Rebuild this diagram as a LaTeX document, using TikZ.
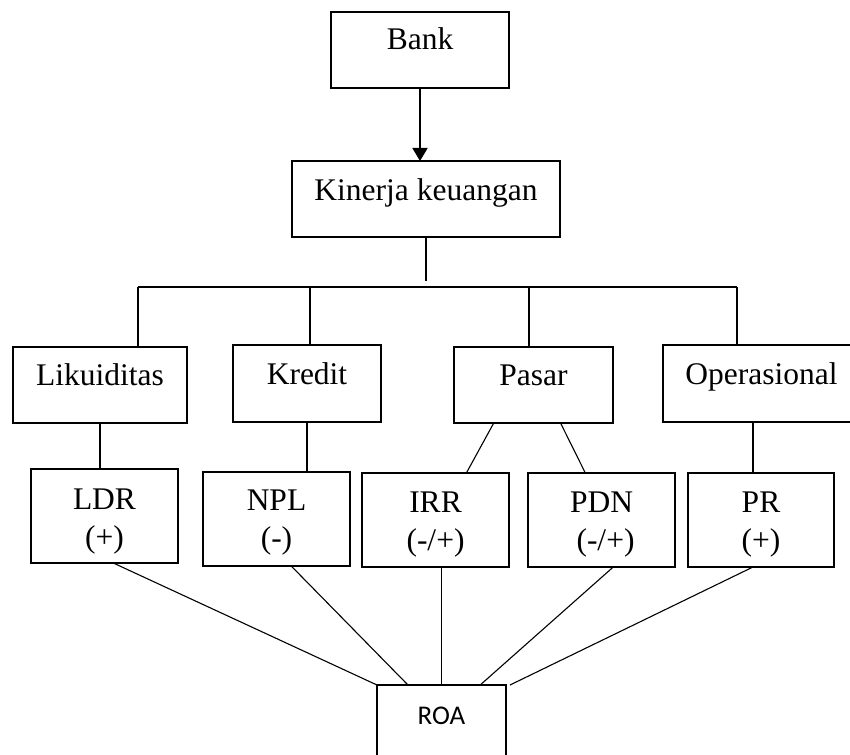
\documentclass[tikz,border=0pt]{standalone}
\usepackage{fontspec}
\setmainfont{Liberation Serif}
\newfontfamily\roafont{Carlito}
\usetikzlibrary{arrows.meta,calc}

\begin{document}
\begin{tikzpicture}[x = 1pt, y = -1pt,
  blok/.style = {draw, line width = 1.4pt, inner sep = 0, outer sep = 0,
    anchor = north west, align = center,
    font = \fontsize{31.5}{38}\selectfont},
  garis/.style = {line width = 1.1pt}]
\clip (0, 0) rectangle (850, 754);
% kotak atas
\node (bank) [blok, minimum width = 178, text height = 38, text depth = 38] at (331, 12) {Bank};
\node (kinerja) [blok, minimum width = 268, text height = 39, text depth = 37] at (292, 161) {Kinerja keuangan};
% risiko
\node (likuiditas) [blok, minimum width = 174, text height = 38, text depth = 38] at (13, 347) {Likuiditas};
\node (kredit) [blok, minimum width = 148, text height = 39, text depth = 38] at (233, 345) {Kredit};
\node (pasar) [blok, minimum width = 159, text height = 38, text depth = 38] at (454, 347) {Pasar};
\node (operasional) [blok, minimum width = 197, text height = 39, text depth = 38] at (663, 345) {Operasional};
% rasio
\node (ldr) [blok, minimum width = 147, text height = 78, text depth = 16] at (31, 469) {LDR\\(+)};
\node (npl) [blok, minimum width = 147, text height = 76, text depth = 18] at (203, 472) {NPL\\(-)};
\node (irr) [blok, minimum width = 147, text height = 77, text depth = 17] at (362, 473) {IRR\\(-/+)};
\node (pdn) [blok, minimum width = 147, text height = 77, text depth = 17] at (528, 473) {PDN\\\hspace*{8pt}(-/+)};
\node (pr) [blok, minimum width = 146, text height = 77, text depth = 17] at (688, 473) {PR\\(+)};
\node (roa) [blok, minimum width = 129, text height = 39, text depth = 46,
  font = \roafont\fontsize{27}{32}\selectfont] at (377, 685) {ROA};

\draw[line width = 1.8pt, -{Triangle[width = 15pt, length = 13pt]}] (bank.south) -- (bank.south |- kinerja.north);
\coordinate (ujung) at ($(kinerja.south) + (0, 44)$);
\draw[garis] (kinerja.south) -- (ujung);
\coordinate (t1) at (138, 287);
\coordinate (t2) at (310, 287);
\coordinate (t3) at (529, 287);
\coordinate (t4) at (737, 287);
\draw[garis] (t1) -- (t4);
\foreach \t/\b in {t1/likuiditas, t2/kredit, t3/pasar, t4/operasional}
  \draw[garis] (\t) -- (\t |- \b.north);

\draw[garis] (likuiditas.south) -- (likuiditas.south |- ldr.north);
\draw[garis] (kredit.south) -- (kredit.south |- npl.north);
\draw[garis] ($(pasar.south west)!0.25!(pasar.south east)$) -- ($(irr.north west)!0.71!(irr.north east)$);
\draw[garis] ($(pasar.south west)!0.67!(pasar.south east)$) -- ($(pdn.north west)!0.39!(pdn.north east)$);
\draw[garis] ($(pr.north west)!0.445!(pr.north east)$) -- ($(pr.north west)!0.445!(pr.north east) - (0, 51)$);

% garis ke ROA
\draw[garis] ($(ldr.south west)!0.56!(ldr.south east)$) -- (roa.north west);
\draw[garis] ($(npl.south west)!0.6!(npl.south east)$) -- ($(roa.north west)!0.24!(roa.north east)$);
\draw[garis] (roa.north |- irr.south) -- (roa.north);
\draw[garis] ($(pdn.south west)!0.58!(pdn.south east)$) -- ($(roa.north west)!0.8!(roa.north east)$);
\draw[garis] ($(pr.south west)!0.445!(pr.south east)$) -- ($(roa.north east) + (4, 0)$);
\end{tikzpicture}
\end{document}
